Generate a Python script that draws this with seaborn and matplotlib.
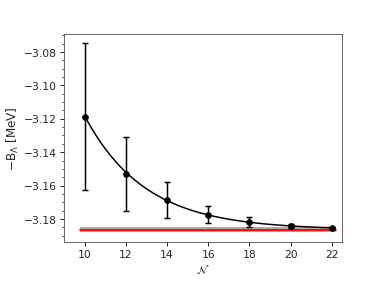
import numpy as np
import pandas as pd
import seaborn as sns
import matplotlib
matplotlib.use("Agg")
import matplotlib.pyplot as plt
from matplotlib.ticker import AutoMinorLocator

# values
n_vals = [10, 12, 14, 16, 18, 20, 22]
b_vals = [-3.1187, -3.1532, -3.1688, -3.1774, -3.1816, -3.1842, -3.1853]
b_errs = [0.0440, 0.0222, 0.0108, 0.0052, 0.0030, 0.0010, 0.0007]

b_inf = -3.1864
b_inf_err = 0.0016
band_x = [9.8, 22.2]

sns.set_style("ticks")
plt.rcParams["font.family"] = ["DejaVu Sans"]
plt.rcParams["mathtext.fontset"] = "dejavusans"

df = pd.DataFrame({"N": n_vals, "B": b_vals, "err": b_errs})

# exponential fit towards the extrapolated value
coef = np.polyfit(df["N"], np.log(df["B"] - b_inf), 1)
n_fine = np.linspace(10, 22, 200)
fit = pd.DataFrame({"N": n_fine, "B": b_inf + np.exp(np.polyval(coef, n_fine))})

dpi = 381 / 6.4
fig, ax = plt.subplots(figsize=(6.4, 4.8), dpi=dpi)
fig.subplots_adjust(left=0.168, right=0.898, bottom=0.151, top=0.880)

ax.fill_between(band_x, b_inf - b_inf_err, b_inf + b_inf_err,
                color="#8c8c8c", alpha=0.75, lw=0)
ax.plot(band_x, [b_inf, b_inf], color="red", lw=2.2)

sns.lineplot(data=fit, x="N", y="B", ax=ax, color="black", lw=1.8)
ax.errorbar(df["N"], df["B"], yerr=df["err"], fmt="o", color="black",
            ms=7, capsize=4, elinewidth=1.8, capthick=1.8)

ax.set_xlim(9, 22.5)
ax.set_xticks(range(10, 23, 2))
ax.yaxis.set_minor_locator(AutoMinorLocator())
ax.set_xlabel(r"$\mathcal{N}$", fontsize=13)
ax.set_ylabel(r"$-\mathrm{B}_\Lambda$ [MeV]", fontsize=14.5, labelpad=3)
ax.tick_params(labelsize=13, length=5, width=1.2)
ax.tick_params(which="minor", length=3, width=1)

fig.savefig("out.png", dpi=dpi)
